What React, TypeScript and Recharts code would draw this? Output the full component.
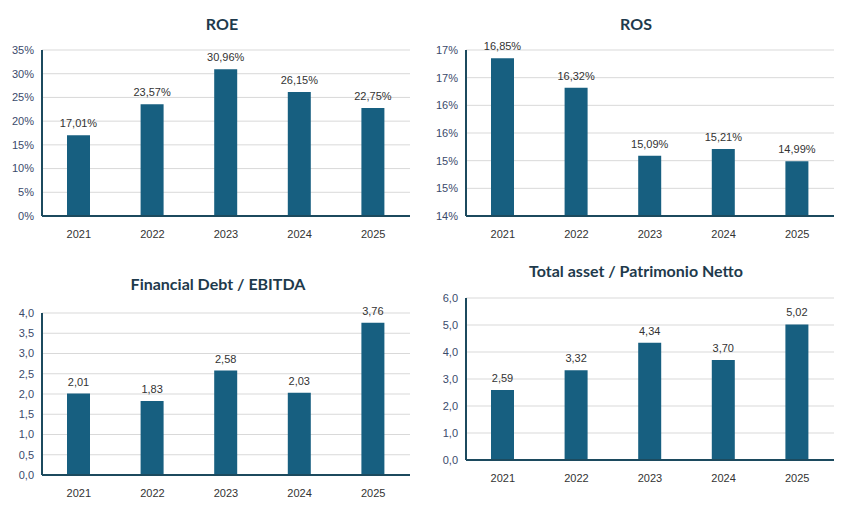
import React from 'react'
import { Bar, BarChart, CartesianGrid, LabelList, XAxis, YAxis } from 'recharts'

const years = ['2021', '2022', '2023', '2024', '2025']
const roe = [17.01, 23.57, 30.96, 26.15, 22.75]
const ros = [16.85, 16.32, 15.09, 15.21, 14.99]
const debtEbitda = [2.01, 1.83, 2.58, 2.03, 3.76]
const assetEquity = [2.59, 3.32, 4.34, 3.7, 5.02]

const roeTicks = [0, 5, 10, 15, 20, 25, 30, 35]
const rosTicks = [14, 14.5, 15, 15.5, 16, 16.5, 17]
const debtTicks = [0, 0.5, 1, 1.5, 2, 2.5, 3, 3.5, 4]
const assetTicks = [0, 1, 2, 3, 4, 5, 6]

const BAR = '#175f80'
const FONT = '"Liberation Sans", Arial, sans-serif'
const comma = (v: number, d: number) => v.toFixed(d).replace('.', ',')

interface PanelProps {
  title: string
  titleX: number
  titleY: number
  left: number
  top: number
  values: number[]
  ticks: number[]
  tickFmt: (v: number) => string
  labelFmt: (v: number) => string
  margin: { top: number; right: number; left: number; bottom: number }
  yWidth: number
}

const Panel = (p: PanelProps) => {
  const data = years.map((y, i) => ({ year: y, v: p.values[i] }))
  return (
    <>
      <div style={{ position: 'absolute', left: p.titleX - 200, top: p.titleY - 11, width: 400, textAlign: 'center', fontFamily: 'Lato, sans-serif', fontWeight: 700, fontSize: 16, color: '#1e3a4c' }}>
        {p.title}
      </div>
      <div style={{ position: 'absolute', left: p.left, top: p.top }}>
        <BarChart width={420} height={250} data={data} margin={p.margin}>
          <CartesianGrid vertical={false} stroke="#d9d9d9" />
          <XAxis dataKey="year" height={30} tickLine={false} axisLine={{ stroke: '#1c4a5e', strokeWidth: 2 }} tick={{ fill: '#333', fontSize: 11, fontFamily: FONT }} tickMargin={8} />
          <YAxis width={p.yWidth} domain={[p.ticks[0], p.ticks[p.ticks.length - 1]]} ticks={p.ticks} interval={0} tickFormatter={p.tickFmt} tickLine={false} axisLine={{ stroke: '#1c4a5e', strokeWidth: 2 }} tick={{ fill: '#3a4a6b', fontSize: 11, fontFamily: FONT }} allowDataOverflow />
          <Bar dataKey="v" fill={BAR} barSize={23} isAnimationActive={false}>
            <LabelList dataKey="v" position="top" offset={8} formatter={(v: any) => p.labelFmt(Number(v))} style={{ fill: '#333', fontSize: 11, fontFamily: FONT }} />
          </Bar>
        </BarChart>
      </div>
    </>
  )
}

export default function App() {
  return (
    <div style={{ position: 'absolute', left: 0, top: 0, width: 857, height: 520, background: '#fff' }}>
      <Panel title="ROE" titleX={222} titleY={25} left={0} top={0} values={roe} ticks={roeTicks}
        tickFmt={(v) => `${v}%`} labelFmt={(v) => `${comma(v, 2)}%`}
        margin={{ top: 50, right: 10, left: 0, bottom: 4 }} yWidth={42} />
      <Panel title="ROS" titleX={636} titleY={25} left={430} top={0} values={ros} ticks={rosTicks}
        tickFmt={(v) => `${Math.round(v)}%`} labelFmt={(v) => `${comma(v, 2)}%`}
        margin={{ top: 50, right: 16, left: 0, bottom: 4 }} yWidth={36} />
      <Panel title="Financial Debt / EBITDA" titleX={218} titleY={285} left={0} top={260} values={debtEbitda} ticks={debtTicks}
        tickFmt={(v) => comma(v, 1)} labelFmt={(v) => comma(v, 2)}
        margin={{ top: 53, right: 10, left: 0, bottom: 5 }} yWidth={42} />
      <Panel title="Total asset /  Patrimonio Netto" titleX={636} titleY={272} left={430} top={260} values={assetEquity} ticks={assetTicks}
        tickFmt={(v) => comma(v, 1)} labelFmt={(v) => comma(v, 2)}
        margin={{ top: 38, right: 16, left: 0, bottom: 20 }} yWidth={36} />
    </div>
  )
}
